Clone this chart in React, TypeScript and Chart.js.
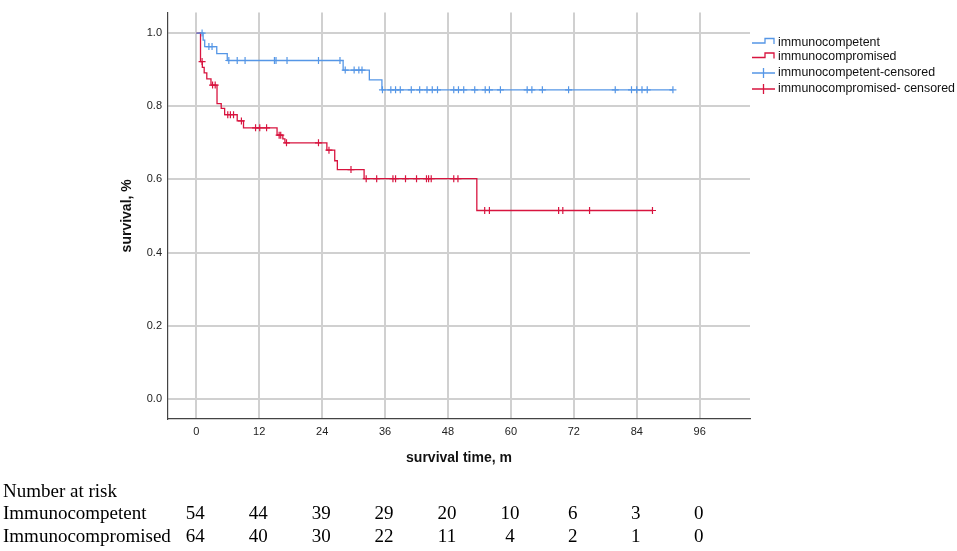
import React, { useEffect, useRef } from 'react';
import { Chart, registerables } from 'chart.js';

Chart.register(...registerables);

// Kaplan-Meier steps: time (months) of each drop and survival right after it
const competentTimes = [0, 1.3, 1.6, 3.9, 5.9, 28.0, 33.0, 35.4, 90.9];
const competentSurv = [1, 0.981, 0.963, 0.944, 0.925, 0.899, 0.872, 0.845, 0.845];
const compromisedTimes = [0, 0.8, 1.15, 1.5, 2.0, 2.8, 3.95, 4.75, 5.4, 7.8, 9.0, 15.4, 16.5, 16.9, 24.9, 26.4, 26.9, 32.0, 53.5, 87.0];
const compromisedSurv = [1, 0.922, 0.906, 0.891, 0.875, 0.858, 0.807, 0.794, 0.777, 0.760, 0.741, 0.721, 0.711, 0.700, 0.680, 0.651, 0.627, 0.602, 0.515, 0.515];

// censored observations (months)
const competentCensored = [1.1, 2.4, 3.0, 6.2, 7.8, 9.3, 14.9, 15.2, 17.3, 23.3, 27.4, 28.4, 30.1, 31.0, 31.6, 35.5, 37.1, 38.0, 38.9, 41.0, 42.6, 44.0, 45.0, 46.0, 49.1, 50.0, 51.0, 53.1, 55.1, 55.9, 58.0, 63.1, 64.0, 66.0, 71.0, 79.9, 83.0, 84.0, 85.0, 86.0, 90.9];
const compromisedCensored = [1.1, 3.1, 3.6, 6.0, 6.5, 7.1, 8.6, 11.3, 12.1, 13.4, 15.8, 16.1, 17.2, 23.3, 25.3, 29.5, 32.4, 34.4, 37.5, 38.0, 39.9, 42.0, 43.9, 44.3, 44.8, 49.1, 49.9, 55.0, 55.9, 69.1, 69.9, 75.0, 87.0];

const xTicks = [0, 12, 24, 36, 48, 60, 72, 84, 96];
const yTicks = [0, 0.2, 0.4, 0.6, 0.8, 1.0];

const legendLabels = ['immunocompetent', 'immunocompromised', 'immunocompetent-censored', 'immunocompromised- censored'];

const riskTimes = [0, 12, 24, 36, 48, 60, 72, 84, 96];
const riskCompetent = [54, 44, 39, 29, 20, 10, 6, 3, 0];
const riskCompromised = [64, 40, 30, 22, 11, 4, 2, 1, 0];
const riskRowLabels = ['Number at risk', 'Immunocompetent', 'Immunocompromised'];

const BLUE = '#5596e6';
const RED = '#d8143f';
const SANS = 'Arial, "Liberation Sans", sans-serif';
const SERIF = '"Times New Roman", "Liberation Serif", serif';

// survival value of the step curve at time t (for placing censor marks)
const survivalAt = (times: number[], surv: number[], t: number) => {
    let s = surv[0];
    for (let i = 0; i < times.length; i++) {
        if (times[i] <= t) s = surv[i];
    }
    return s;
};

const kmExtras = {
    id: 'kmExtras',
    afterDraw(chart: Chart) {
        const ctx = chart.ctx;
        const area = chart.chartArea;
        ctx.save();

        // legend
        const lx = area.right + 2;
        const rows = [42.5, 57, 73, 89];
        const colors = [BLUE, RED, BLUE, RED];
        ctx.font = `12.4px ${SANS}`;
        ctx.textBaseline = 'middle';
        ctx.textAlign = 'left';
        legendLabels.forEach((label, i) => {
            const y = rows[i];
            ctx.strokeStyle = colors[i];
            ctx.lineWidth = 1.3;
            ctx.beginPath();
            if (i < 2) {
                ctx.moveTo(lx, y + 0.5);
                ctx.lineTo(lx + 13, y + 0.5);
                ctx.lineTo(lx + 13, y - 4);
                ctx.lineTo(lx + 22, y - 4);
                ctx.lineTo(lx + 22, y + 1.5);
            } else {
                ctx.moveTo(lx, y);
                ctx.lineTo(lx + 23, y);
                ctx.moveTo(lx + 11.5, y - 5);
                ctx.lineTo(lx + 11.5, y + 5);
            }
            ctx.stroke();
            ctx.fillStyle = '#111';
            ctx.fillText(label, lx + 26, y);
        });

        // number at risk table
        const xScale = chart.scales.x;
        const baselines = [496.5, 519, 541.5];
        ctx.font = `19px ${SERIF}`;
        ctx.fillStyle = '#000';
        ctx.textBaseline = 'alphabetic';
        riskRowLabels.forEach((label, i) => {
            ctx.textAlign = 'left';
            ctx.fillText(label, 3, baselines[i]);
        });
        ctx.textAlign = 'center';
        riskTimes.forEach((t, i) => {
            const px = xScale.getPixelForValue(t);
            ctx.fillText(String(riskCompetent[i]), px - 1, baselines[1]);
            ctx.fillText(String(riskCompromised[i]), px - 1, baselines[2]);
        });
        ctx.restore();
    },
};

const KaplanMeierChart: React.FC = () => {
    const canvasRef = useRef<HTMLCanvasElement | null>(null);
    const chartRef = useRef<Chart | null>(null);

    useEffect(() => {
        if (!canvasRef.current) return;
        const ctx = canvasRef.current.getContext('2d');
        if (!ctx) return;
        if (chartRef.current) chartRef.current.destroy();

        const steps = (times: number[], surv: number[]) => times.map((t, i) => ({ x: t, y: surv[i] }));
        const marks = (cens: number[], times: number[], surv: number[]) =>
            cens.map((t) => ({ x: t, y: survivalAt(times, surv, t) }));

        chartRef.current = new Chart(ctx, {
            type: 'line',
            data: {
                datasets: [
                    {
                        label: legendLabels[0],
                        data: steps(competentTimes, competentSurv),
                        borderColor: BLUE,
                        borderWidth: 1.3,
                        stepped: 'before',
                        pointRadius: 0,
                        fill: false,
                    },
                    {
                        label: legendLabels[1],
                        data: steps(compromisedTimes, compromisedSurv),
                        borderColor: RED,
                        borderWidth: 1.3,
                        stepped: 'before',
                        pointRadius: 0,
                        fill: false,
                    },
                    {
                        label: legendLabels[2],
                        data: marks(competentCensored, competentTimes, competentSurv),
                        showLine: false,
                        pointStyle: 'cross',
                        pointRadius: 3.5,
                        pointBorderWidth: 1.2,
                        borderColor: BLUE,
                        pointBorderColor: BLUE,
                    },
                    {
                        label: legendLabels[3],
                        data: marks(compromisedCensored, compromisedTimes, compromisedSurv),
                        showLine: false,
                        pointStyle: 'cross',
                        pointRadius: 3.5,
                        pointBorderWidth: 1.2,
                        borderColor: RED,
                        pointBorderColor: RED,
                    },
                ],
            },
            options: {
                animation: false,
                responsive: true,
                maintainAspectRatio: false,
                layout: { padding: { top: 3, right: 207, bottom: 82, left: 0 } },
                plugins: {
                    legend: { display: false },
                    tooltip: { enabled: false },
                },
                scales: {
                    x: {
                        type: 'linear',
                        min: -5.4,
                        max: 105.6,
                        afterBuildTicks: (scale: any) => {
                            scale.ticks = xTicks.map((v) => ({ value: v }));
                        },
                        afterFit: (scale: any) => {
                            scale.height = 50;
                        },
                        ticks: {
                            padding: 6,
                            color: '#222',
                            font: { family: SANS, size: 11 },
                            maxRotation: 0,
                            callback: (v: any) => String(v),
                        },
                        grid: { color: '#d0d0d0', lineWidth: 2, drawTicks: false },
                        border: { color: '#444', width: 1.2 },
                        title: {
                            display: true,
                            text: 'survival time, m',
                            color: '#111',
                            font: { family: SANS, size: 14, weight: 'bold' },
                            padding: { top: 0, bottom: 2.6 },
                        },
                    },
                    y: {
                        type: 'linear',
                        min: -0.055,
                        max: 1.056,
                        afterBuildTicks: (scale: any) => {
                            scale.ticks = yTicks.map((v) => ({ value: v }));
                        },
                        afterFit: (scale: any) => {
                            scale.width = 168;
                        },
                        ticks: {
                            padding: 6,
                            color: '#222',
                            font: { family: SANS, size: 11 },
                            callback: (v: any) => Number(v).toFixed(1),
                        },
                        grid: { color: '#d0d0d0', lineWidth: 2, drawTicks: false },
                        border: { color: '#444', width: 1.2 },
                        title: {
                            display: true,
                            text: 'survival, %',
                            color: '#111',
                            font: { family: SANS, size: 14, weight: 'bold' },
                            padding: { top: 119, bottom: 0 },
                        },
                    },
                },
            },
            plugins: [kmExtras],
        });

        return () => {
            if (chartRef.current) {
                chartRef.current.destroy();
                chartRef.current = null;
            }
        };
    }, []);

    return (
        <div style={{ position: 'fixed', left: 0, top: 0, width: 957, height: 551, background: '#fff' }}>
            <canvas ref={canvasRef} />
        </div>
    );
};

export default function App() {
    return <KaplanMeierChart />;
}
